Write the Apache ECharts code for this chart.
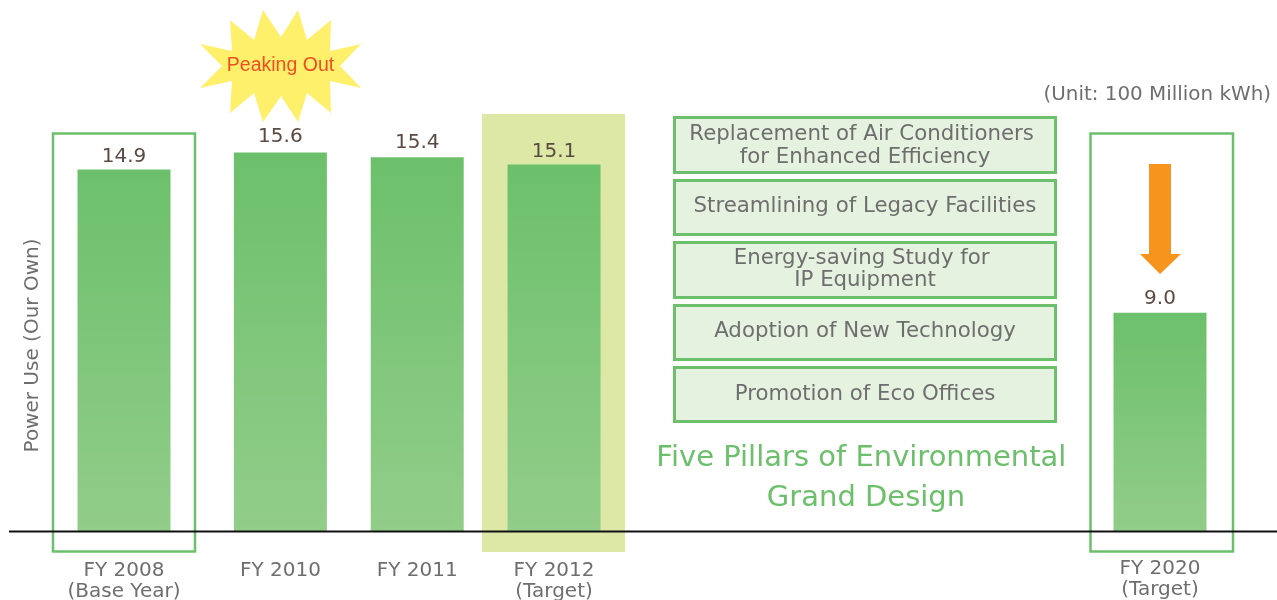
<!DOCTYPE html>
<html>
<head>
<meta charset="utf-8">
<script src="https://cdn.jsdelivr.net/npm/echarts@6/dist/echarts.min.js"></script>
<style>html,body{margin:0;padding:0;background:#fff}#c{width:1277px;height:600px}</style>
</head>
<body>
<div id="c"></div>
<script>
const categories = ['FY 2008\n(Base Year)', 'FY 2010', 'FY 2011', 'FY 2012\n(Target)', 'FY 2020\n(Target)'];
const powerUse = [14.9, 15.6, 15.4, 15.1, 9.0];
const pillars = [
  'Replacement of Air Conditioners \nfor Enhanced Efficiency',
  'Streamlining of Legacy Facilities',
  'Energy-saving Study for \nIP Equipment',
  'Adoption of New Technology',
  'Promotion of Eco Offices'
];
const pillarsTitle = 'Five Pillars of Environmental \nGrand Design';
const unitText = '(Unit: 100 Million kWh)';
const yAxisTitle = 'Power Use (Our Own)';
const starText = 'Peaking Out';

// layout
const slots = [5, 13, 20, 27, 58];
const slotCount = 64;
const labelGaps = [3, 6, 4.5, 3, 4.5];
const labelShift = [2, 2, 2, 2, 0];
const textNudge = [1.5, -0.5, 0, -0.5, 0];
const GREEN = '#6cc06b', GREY = '#6e6e6e', BROWN = '#5a4a42';
const FONT = '"DejaVu Sans", sans-serif';
const slotCats = new Array(slotCount).fill('');
const slotVals = new Array(slotCount).fill(null);
slots.forEach((s, i) => {
  slotCats[s] = {value: categories[i], textStyle: {padding: [labelShift[i], 0, 0, 0]}};
  slotVals[s] = {value: powerUse[i], label: {distance: labelGaps[i]}};
});

const star = [[263,10],[281,37],[298,10],[307,40],[331,20],[330,51],[361,44],[340,66],[361,88],[330,81],[331,113],[307,93],[298,122],[281,96],[263,122],[254,93],[230,113],[232,81],[200,88],[222,66],[200,44],[232,51],[230,20],[254,40]];
const boxY = [[117,172],[180,234],[242,297],[305,359],[367,421]];

const graphics = [
  {type:'rect', z:0, shape:{x:482,y:114,width:143,height:438}, style:{fill:'#dde8a6'}},
  {type:'rect', z:0, shape:{x:53,y:133.5,width:142,height:418}, style:{fill:'none',stroke:GREEN,lineWidth:2.5}},
  {type:'rect', z:0, shape:{x:1090.5,y:133.5,width:142.5,height:418}, style:{fill:'none',stroke:GREEN,lineWidth:2.5}},
  {type:'line', z:20, shape:{x1:9,y1:531.5,x2:1277,y2:531.5}, style:{stroke:'#111',lineWidth:2}},
  {type:'polygon', z:10, shape:{points:star}, style:{fill:'#fff06c'}},
  {type:'text', z:11, x:280.5, y:66, style:{text:starText,fill:'#f04e23',font:'19.5px "Liberation Sans", sans-serif',align:'center',verticalAlign:'middle'}},
  {type:'polygon', z:10, shape:{points:[[1149,164],[1171,164],[1171,254],[1181,254],[1160,274],[1140,254],[1149,254]]}, style:{fill:'#f7941d'}},
  {type:'text', z:11, x:1271, y:95, style:{text:unitText,fill:GREY,font:'19.9px '+FONT,align:'right',verticalAlign:'middle'}},
  {type:'text', z:11, x:33, y:345.5, rotation:Math.PI/2, style:{text:yAxisTitle,fill:GREY,font:'20px '+FONT,align:'center',verticalAlign:'middle'}},
  {type:'text', z:11, x:866, y:478, style:{text:pillarsTitle,fill:GREEN,font:'29px '+FONT,lineHeight:40,align:'center',verticalAlign:'middle'}}
];
pillars.forEach((t, i) => {
  const [a, b] = boxY[i];
  graphics.push({type:'rect', z:5, shape:{x:674.5,y:a+.5,width:381,height:b-a}, style:{fill:'#e6f2e0',stroke:GREEN,lineWidth:3}});
  graphics.push({type:'text', z:6, x:865, y:(a+b)/2+textNudge[i], style:{text:t,fill:GREY,font:'21.3px '+FONT,lineHeight:22.5,align:'center',verticalAlign:'middle'}});
});

const chart = echarts.init(document.getElementById('c'), null, {renderer:'canvas'});
chart.setOption({
  animation:false,
  backgroundColor:'#fff',
  grid:{left:16.5, top:45.5, width:1251, height:486, outerBoundsMode:'none'},
  xAxis:{
    type:'category', data:slotCats,
    axisLine:{show:false}, axisTick:{show:false},
    axisLabel:{interval:0, color:GREY, fontFamily:FONT, fontSize:20, lineHeight:21, margin:27, hideOverlap:false, showMinLabel:true, showMaxLabel:true}
  },
  yAxis:{type:'value', min:0, max:20, show:false},
  series:[{
    type:'bar', data:slotVals, barWidth:93, z:2,
    itemStyle:{color:new echarts.graphic.LinearGradient(0,0,0,1,[{offset:0,color:'#6cc06b'},{offset:1,color:'#92cd8a'}])},
    label:{show:true, position:'top', color:BROWN, fontFamily:FONT, fontSize:20, formatter:p=>p.value.toFixed(1)}
  }],
  graphic:{elements:graphics}
});
</script>
</body>
</html>
